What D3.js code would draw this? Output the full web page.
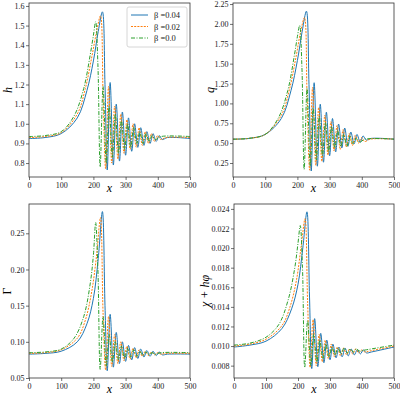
<!DOCTYPE html>
<html><head><meta charset="utf-8">
<script src="https://cdn.jsdelivr.net/npm/d3@7"></script>
<style>body{margin:0;background:#fff}</style></head>
<body><svg id="c" width="400" height="400"></svg>
<script>
const xTicks=[0,100,200,300,400,500];
const seriesNames=["β =0.04","β =0.02","β =0.0"];
const xBlue=[0,50,100,150,180,200,215,228,236,243,252,262,271,281,290,300,309,319,328,338,347,357,366,376,385,395,404,414,430,500];
const xOrange=[0,50,100,150,175,195,210,222,230,238,247,257,266,276,285,295,304,314,323,333,342,352,361,371,380,390,399,409,425,500];
const xGreen=[0,50,100,140,170,190,200,207,214,221,230,240,249,259,268,278,287,297,306,316,325,335,344,354,363,373,382,392,410,500];
const hBlue=[0.925,0.93,0.95,1.03,1.17,1.32,1.47,1.57,1.2,0.765,1.21,0.79,1.10,0.81,1.06,0.84,1.03,0.86,1.0,0.88,0.98,0.89,0.96,0.9,0.95,0.91,0.94,0.92,0.93,0.925];
const hOrange=[0.93,0.935,0.955,1.05,1.18,1.34,1.47,1.55,1.15,0.77,1.19,0.80,1.09,0.82,1.05,0.85,1.02,0.87,1.0,0.88,0.98,0.89,0.96,0.9,0.95,0.91,0.94,0.92,0.93,0.93];
const hGreen=[0.935,0.94,0.96,1.04,1.18,1.35,1.45,1.52,1.3,0.78,1.19,0.80,1.09,0.83,1.05,0.85,1.02,0.87,1.0,0.88,0.98,0.9,0.96,0.9,0.95,0.91,0.94,0.92,0.935,0.935];
const qBlue=[0.55,0.56,0.61,0.81,1.16,1.54,1.91,2.16,1.24,0.15,1.26,0.21,0.99,0.26,0.89,0.34,0.81,0.39,0.74,0.44,0.69,0.46,0.64,0.49,0.61,0.51,0.59,0.54,0.56,0.55];
const qOrange=[0.55,0.56,0.61,0.85,1.17,1.57,1.9,2.08,1.1,0.16,1.2,0.22,0.95,0.27,0.85,0.35,0.77,0.4,0.72,0.42,0.67,0.45,0.62,0.47,0.6,0.5,0.57,0.52,0.55,0.55];
const qGreen=[0.55,0.56,0.61,0.81,1.16,1.59,1.84,1.98,1.46,0.17,1.19,0.21,0.94,0.29,0.84,0.34,0.76,0.39,0.71,0.44,0.66,0.46,0.61,0.46,0.59,0.49,0.56,0.51,0.55,0.55];
const gBlue=[0.083,0.084,0.087,0.10,0.125,0.16,0.215,0.28,0.15,0.06,0.138,0.065,0.113,0.07,0.10,0.073,0.095,0.075,0.092,0.077,0.09,0.079,0.088,0.08,0.087,0.081,0.086,0.082,0.083,0.083];
const gOrange=[0.084,0.085,0.089,0.105,0.13,0.17,0.22,0.272,0.14,0.061,0.135,0.066,0.11,0.07,0.10,0.074,0.094,0.076,0.091,0.078,0.089,0.08,0.087,0.081,0.086,0.082,0.085,0.083,0.084,0.084];
const gGreen=[0.085,0.086,0.09,0.105,0.135,0.18,0.22,0.265,0.2,0.062,0.135,0.067,0.11,0.072,0.10,0.075,0.094,0.077,0.091,0.079,0.089,0.08,0.087,0.081,0.086,0.082,0.085,0.083,0.085,0.085];
const cBlue=[0.0099,0.0101,0.0105,0.0118,0.0138,0.0163,0.020,0.0237,0.015,0.0077,0.0128,0.0079,0.0113,0.0083,0.0106,0.0086,0.0102,0.0088,0.0099,0.0089,0.0098,0.009,0.0097,0.0091,0.0096,0.0092,0.0096,0.0093,0.0094,0.0099];
const cOrange=[0.0100,0.0102,0.0107,0.0121,0.014,0.0167,0.0202,0.023,0.0145,0.0078,0.0127,0.008,0.0112,0.0084,0.0106,0.0087,0.0102,0.0089,0.0099,0.009,0.0098,0.0091,0.0097,0.0092,0.0097,0.0093,0.0096,0.0094,0.0095,0.0100];
const cGreen=[0.0101,0.0103,0.0109,0.0122,0.0148,0.018,0.0205,0.0223,0.018,0.0078,0.0126,0.008,0.0112,0.0084,0.0106,0.0087,0.0102,0.0089,0.0099,0.0091,0.0098,0.0092,0.0098,0.0093,0.0097,0.0094,0.0097,0.0095,0.0096,0.0101];
const hTicks=[0.8,0.9,1.0,1.1,1.2,1.3,1.4,1.5,1.6];
const qTicks=[0.25,0.5,0.75,1.0,1.25,1.5,1.75,2.0,2.25];
const gTicks=[0.05,0.10,0.15,0.20,0.25];
const cTicks=[0.008,0.010,0.012,0.014,0.016,0.018,0.020,0.022,0.024];

const panels=[
 {x0:29,x1:190,y0:3,y1:177,dom:[0.729,1.615],ticks:hTicks,fmt:".1f",label:"h",it:true,lx:9,ys:[hBlue,hOrange,hGreen],legend:true},
 {x0:233,x1:394,y0:3,y1:177,dom:[0.074,2.263],ticks:qTicks,fmt:".2f",label:"q",it:true,lx:211,ys:[qBlue,qOrange,qGreen]},
 {x0:29,x1:190,y0:204,y1:378,dom:[0.05,0.2905],ticks:gTicks,fmt:".2f",label:"Γ",it:false,lx:8,ys:[gBlue,gOrange,gGreen]},
 {x0:234,x1:394,y0:204,y1:378,dom:[0.00674,0.0245],ticks:cTicks,fmt:".3f",label:"χ + hφ",it:true,lx:206,ys:[cBlue,cOrange,cGreen]}
];
const xs=[xBlue,xOrange,xGreen];
const colors=["#1f77b4","#ff7f0e","#2ca02c"];
const dashes=[null,"2,1.2","4,1.5,1,1.5"];
const font="Liberation Serif";
const svg=d3.select("#c");
panels.forEach(p=>{
  const x=d3.scaleLinear().domain([0,500]).range([p.x0,p.x1]);
  const y=d3.scaleLinear().domain(p.dom).range([p.y1,p.y0]);
  const line=d3.line().x(d=>x(d[0])).y(d=>y(d[1])).curve(d3.curveCatmullRom.alpha(0.5));
  const clipId="cl"+p.x0+p.y0;
  svg.append("clipPath").attr("id",clipId).append("rect").attr("x",p.x0).attr("y",p.y0).attr("width",p.x1-p.x0).attr("height",p.y1-p.y0);
  const g=svg.append("g").attr("clip-path",`url(#${clipId})`);
  p.ys.forEach((ys,i)=>{
    g.append("path").datum(xs[i].map((v,j)=>[v,ys[j]])).attr("d",line).attr("fill","none")
     .attr("stroke",colors[i]).attr("stroke-width",1).attr("stroke-dasharray",dashes[i]);
  });
  const ax=svg.append("g").attr("transform",`translate(0,${p.y1})`).call(d3.axisBottom(x).tickValues(xTicks).tickSize(3).tickSizeOuter(0));
  const ay=svg.append("g").attr("transform",`translate(${p.x0},0)`).call(d3.axisLeft(y).tickValues(p.ticks).tickFormat(d3.format(p.fmt)).tickSize(3).tickSizeOuter(0));
  [ax,ay].forEach(a=>{a.select(".domain").remove();a.selectAll("text").attr("font-family",font).attr("font-size",8).attr("fill","#222");a.selectAll("line").attr("stroke","#333").attr("stroke-width",0.7);});
  ay.selectAll("text").attr("x",-4.5);
  ax.selectAll("text").attr("y",5);
  svg.append("rect").attr("x",p.x0).attr("y",p.y0).attr("width",p.x1-p.x0).attr("height",p.y1-p.y0).attr("fill","none").attr("stroke","#333").attr("stroke-width",0.8);
  svg.append("text").attr("x",(p.x0+p.x1)/2).attr("y",p.y1+15).attr("text-anchor","middle").attr("font-family",font).attr("font-style","italic").attr("font-size",12).text("x");
  svg.append("text").attr("transform",`translate(${p.lx},${(p.y0+p.y1)/2}) rotate(-90)`).attr("text-anchor","middle").attr("dominant-baseline","middle").attr("font-family",font).attr("font-style",p.it?"italic":"normal").attr("font-size",12).text(p.label);
  if(p.legend){
    const lg=svg.append("g");
    lg.append("rect").attr("x",127).attr("y",7).attr("width",60).attr("height",40).attr("rx",2).attr("fill","#fff").attr("stroke","#ccc").attr("stroke-width",0.8);
    seriesNames.forEach((n,i)=>{
      const yy=15+i*11.5;
      lg.append("line").attr("x1",131).attr("x2",148).attr("y1",yy).attr("y2",yy).attr("stroke",colors[i]).attr("stroke-width",1).attr("stroke-dasharray",dashes[i]);
      lg.append("text").attr("x",154).attr("y",yy+3).attr("font-family",font).attr("font-size",8.5).attr("fill","#222").text(n);
    });
  }
});
</script></body></html>
